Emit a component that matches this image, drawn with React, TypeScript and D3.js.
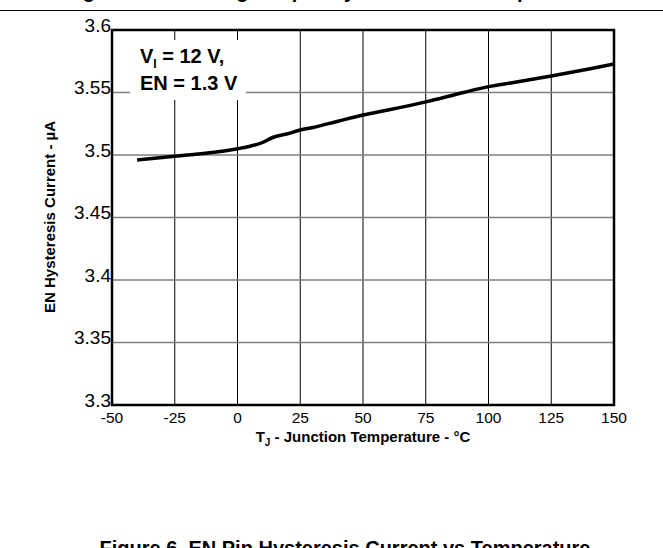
import React from "react";
import * as d3 from "d3";

const xTicks = [-50, -25, 0, 25, 50, 75, 100, 125, 150];
const yTicks = [3.3, 3.35, 3.4, 3.45, 3.5, 3.55, 3.6];
const yTickLabels = ["3.3", "3.35", "3.4", "3.45", "3.5", "3.55", "3.6"];
const tempC = [-40, -30, -20, -10, 0, 5, 10, 14, 20, 25, 30, 40, 50, 60, 75, 90, 100, 110, 125, 140, 150];
const currentUA = [3.496, 3.498, 3.5, 3.502, 3.505, 3.507, 3.51, 3.514, 3.517, 3.52, 3.522, 3.527, 3.532, 3.536, 3.5425, 3.55, 3.5547, 3.558, 3.5632, 3.5688, 3.5728];

const FONT = "'Liberation Sans', Arial, Helvetica, sans-serif";

export default function App() {
  const W = 663, H = 548;
  const L = 112, R = 614, T = 30, B = 405;
  const x = d3.scaleLinear().domain([-50, 150]).range([L, R]);
  const y = d3.scaleLinear().domain([3.3, 3.6]).range([B, T]);
  const line = d3.line<number>().x((_, i) => x(tempC[i])).y((d) => y(d)).curve(d3.curveMonotoneX);
  const path = line(currentUA) || "";

  return (
    <svg width={W} height={H} style={{ position: "absolute", left: 0, top: 0, background: "#fff" }} fontFamily={FONT}>
      <rect x={0} y={0} width={W} height={H} fill="#fff" />
      {/* top remnant of previous caption */}
      <text x={331} y={-2} textAnchor="middle" fontSize={20} fontWeight="bold">Figure 5. Switching Frequency vs Junction Temperature</text>
      <line x1={0} x2={W} y1={10.5} y2={10.5} stroke="#000" strokeWidth={1} />

      {/* grid */}
      {xTicks.slice(1, -1).map((t) => (
        <line key={"gx" + t} x1={x(t)} x2={x(t)} y1={T} y2={B} stroke="#000" strokeWidth={1} />
      ))}
      {yTicks.slice(1, -1).map((t) => (
        <line key={"gy" + t} x1={L} x2={R} y1={y(t)} y2={y(t)} stroke="#808080" strokeWidth={1.5} />
      ))}

      {/* legend box */}
      <rect x={130} y={40} width={116} height={60} fill="#fff" />
      <text x={140} y={63} fontSize={20} fontWeight="bold">
        V<tspan fontSize={12} dy={5}>I</tspan><tspan dy={-5}> = 12 V,</tspan>
      </text>
      <text x={140} y={90} fontSize={20} fontWeight="bold">EN = 1.3 V</text>

      {/* data */}
      <path d={path} fill="none" stroke="#000" strokeWidth={3.5} strokeLinejoin="round" />

      {/* frame */}
      <rect x={L} y={T} width={R - L} height={B - T} fill="none" stroke="#000" strokeWidth={2.5} />

      {/* tick labels */}
      {yTicks.map((t, i) => (
        <text key={"yl" + t} x={111} y={y(t) + 1.5} textAnchor="end" fontSize={19}>{yTickLabels[i]}</text>
      ))}
      {xTicks.map((t) => (
        <text key={"xl" + t} x={x(t)} y={423} textAnchor="middle" fontSize={15.5}>{t}</text>
      ))}

      {/* axis titles */}
      <text x={363} y={442} textAnchor="middle" fontSize={15} fontWeight="bold">
        T<tspan fontSize={10} dy={4}>J</tspan><tspan dy={-4}> - Junction Temperature - °C</tspan>
      </text>
      <text transform="translate(55,217) rotate(-90)" textAnchor="middle" fontSize={15} fontWeight="bold">EN Hysteresis Current - µA</text>

      {/* caption */}
      <text x={345} y={555} textAnchor="middle" fontSize={20} fontWeight="bold">Figure 6. EN Pin Hysteresis Current vs Temperature</text>
    </svg>
  );
}
